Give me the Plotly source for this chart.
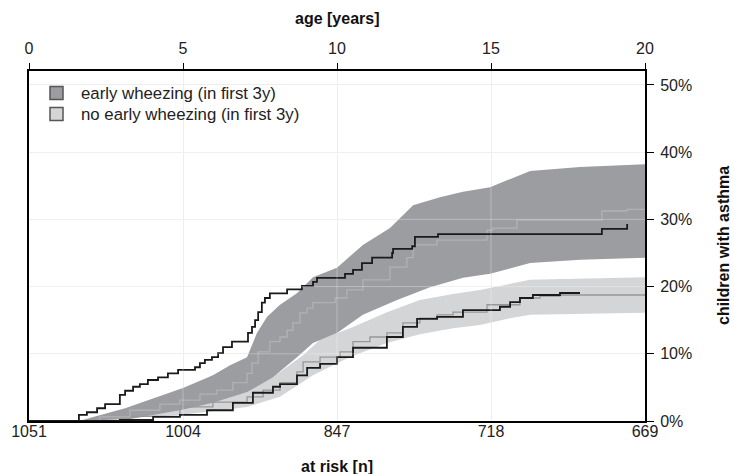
import plotly.graph_objects as go

# ---------------- data ----------------
age_ticks = [0, 5, 10, 15, 20]
at_risk_labels = ["1051", "1004", "847", "718", "669"]
pct_ticks = [0, 10, 20, 30, 40, 50]
pct_labels = ["0%", "10%", "20%", "30%", "40%", "50%"]
legend_names = ["early wheezing (in first 3y)", "no early wheezing (in first 3y)"]

# early wheezing: observed cumulative incidence (black step line)
ew_obs_age = [0, 1.62, 1.88, 2.21, 2.47, 2.95, 3.12, 3.38, 3.60, 3.86, 4.19, 4.51, 4.84,
              5.39, 5.55, 5.71, 5.94, 6.14, 6.30, 6.59, 7.11, 7.24, 7.34, 7.44, 7.56,
              7.66, 7.82, 8.38, 8.86, 9.22, 9.35, 10.26, 10.52, 10.81, 11.14, 11.79,
              11.82, 12.44, 12.53, 13.28, 18.60, 19.42, 19.42]
ew_obs_pct = [0, 0.9, 1.3, 1.9, 2.5, 3.9, 4.5, 5.1, 5.5, 6.1, 6.5, 7.1, 7.6,
              8.0, 8.6, 9.1, 9.5, 10.1, 11.0, 11.8, 13.1, 14.0, 15.0, 16.2, 17.6,
              18.3, 19.0, 19.6, 20.1, 20.7, 21.3, 21.9, 22.5, 23.5, 24.3, 25.0,
              25.6, 26.0, 27.4, 27.8, 28.6, 29.3, 29.3]

# early wheezing: model estimate (grey step line) and confidence band
ew_est_age = [0, 1.62, 2.3, 3.28, 4.25, 4.90, 5.55, 6.10, 6.62, 7.08, 7.24, 7.44, 7.82,
              8.15, 8.38, 8.57, 8.80, 9.03, 9.22, 9.94, 10.32, 10.84, 11.72, 12.27,
              12.47, 13.25, 14.87, 15.06, 15.84, 18.60, 19.42, 20]
ew_est_pct = [0, 0, 0.6, 1.6, 2.5, 3.1, 4.0, 4.6, 5.7, 7.1, 8.6, 10.3, 11.8,
              12.5, 13.5, 14.6, 16.1, 16.8, 17.6, 18.3, 19.5, 21.0, 22.9, 24.3,
              26.2, 26.9, 28.4, 28.7, 29.9, 31.25, 31.5, 31.5]
ew_up_age = [1.62, 3.12, 5.0, 5.97, 6.53, 7.08, 7.4, 7.73, 8.15, 8.7, 9.22, 10.0, 10.84,
             11.72, 12.47, 13.34, 14.09, 14.97, 16.27, 17.89, 20]
ew_up_pct = [0, 1.9, 4.9, 6.8, 8.3, 9.5, 13.1, 15.5, 17.3, 19.0, 21.4, 22.8, 26.2,
             28.7, 32.1, 33.3, 34.1, 34.8, 37.2, 37.8, 38.2]
ew_lo_age = [1.62, 3.28, 4.9, 5.97, 7.08, 7.92, 8.7, 9.22, 10.0, 10.84, 11.95, 13.02,
             14.09, 14.97, 16.27, 17.89, 20]
ew_lo_pct = [0, 0.3, 1.6, 2.7, 4.3, 6.5, 9.5, 11.6, 13.1, 15.8, 18.0, 19.9,
             21.3, 21.9, 23.5, 24.0, 24.3]

# no early wheezing: observed (black step line)
nw_obs_age = [0, 2.95, 4.03, 4.9, 5.78, 6.62, 7.27, 7.92, 8.15, 8.7, 9.03, 9.45, 10.0,
              10.52, 11.62, 12.14, 12.6, 13.25, 14.09, 15.29, 15.62, 15.94, 16.36,
              17.24, 17.89]
nw_obs_pct = [0, 0.15, 0.6, 0.9, 1.6, 2.7, 4.2, 5.1, 5.5, 6.8, 7.9, 8.5, 9.5,
              10.9, 12.5, 14.0, 15.2, 15.5, 16.5, 17.0, 17.7, 18.3, 18.75,
              19.05, 19.05]

# no early wheezing: model estimate and confidence band
nw_est_age = [0, 1.62, 3.28, 4.90, 5.97, 7.08, 7.60, 8.15, 8.70, 8.90, 9.45, 10.10,
              10.52, 11.07, 11.62, 12.14, 12.69, 13.25, 13.77, 14.87, 15.94, 16.59,
              17.24, 20]
nw_est_pct = [0, 0, 0.7, 2.1, 2.8, 3.6, 4.6, 5.7, 7.3, 8.8, 9.5, 10.3,
              11.8, 12.5, 13.1, 14.6, 15.3, 15.8, 16.2, 17.3, 18.3, 18.6,
              18.75, 18.9]
nw_up_age = [1.62, 3.28, 4.9, 7.08, 8.15, 8.9, 9.45, 10.52, 11.62, 12.69, 13.77, 14.64,
             16.27, 20]
nw_up_pct = [0, 0.9, 2.7, 4.6, 7.3, 9.8, 12.1, 14.0, 16.2, 18.0, 18.9, 19.5,
             21.0, 21.4]
nw_lo_age = [1.62, 4.9, 7.08, 8.15, 9.22, 10.1, 10.52, 11.62, 12.69, 13.77, 14.64,
             15.62, 16.27, 20]
nw_lo_pct = [0, 0.9, 2.1, 3.6, 6.8, 8.8, 9.7, 11.6, 12.9, 13.8, 14.3,
             15.3, 15.8, 16.1]

# ---------------- style ----------------
DARK = "#9c9da1"
LIGHT = "#d4d5d7"
FONT = "Liberation Sans, Arial, sans-serif"
W, H = 734, 474
ML, MR, MT, MB = 29, 89, 71, 53

fig = go.Figure()


def band(up_x, up_y, lo_x, lo_y, color):
    return go.Scatter(x=list(up_x) + list(lo_x)[::-1], y=list(up_y) + list(lo_y)[::-1],
                      fill="toself", fillcolor=color, mode="lines",
                      line=dict(width=0), showlegend=False, hoverinfo="skip")


fig.add_trace(band(nw_up_age, nw_up_pct, nw_lo_age, nw_lo_pct, LIGHT))
fig.add_trace(band(ew_up_age, ew_up_pct, ew_lo_age, ew_lo_pct, DARK))

fig.add_trace(go.Scatter(x=nw_est_age, y=nw_est_pct, mode="lines", line_shape="hv",
                         line=dict(color="#979797", width=1.3), showlegend=False))
fig.add_trace(go.Scatter(x=ew_est_age, y=ew_est_pct, mode="lines", line_shape="hv",
                         line=dict(color="#b2b2b2", width=1.3), showlegend=False))
fig.add_trace(go.Scatter(x=nw_obs_age, y=nw_obs_pct, mode="lines", line_shape="hv",
                         line=dict(color="#1a1a1a", width=1.8), showlegend=False))
fig.add_trace(go.Scatter(x=ew_obs_age, y=ew_obs_pct, mode="lines", line_shape="hv",
                         line=dict(color="#1a1a1a", width=1.8), showlegend=False))
# invisible trace so the top (age) axis is drawn
fig.add_trace(go.Scatter(x=[None], y=[None], xaxis="x2", showlegend=False,
                         hoverinfo="skip"))

# grid lines showing through the bands
for v in age_ticks[1:-1]:
    fig.add_shape(type="line", xref="x", yref="paper", x0=v, x1=v, y0=0, y1=1,
                  line=dict(color="rgba(255,255,255,0.3)", width=1), layer="above")
for h in pct_ticks[1:]:
    fig.add_shape(type="line", xref="paper", yref="y", x0=0, x1=1, y0=h, y1=h,
                  line=dict(color="rgba(255,255,255,0.3)", width=1), layer="above")

# legend (drawn as swatches + text, to match the compact spacing)
pw, ph = W - ML - MR, H - MT - MB


def px_x(px):
    return (px - ML) / pw


def px_y(py):
    return (H - MB - py) / ph


for i, (name, col) in enumerate(zip(legend_names, [DARK, LIGHT])):
    cy = 93 + 21 * i
    fig.add_shape(type="rect", xref="paper", yref="paper",
                  x0=px_x(50), x1=px_x(63), y0=px_y(cy + 6.5), y1=px_y(cy - 6.5),
                  fillcolor=col, line=dict(color="#555555", width=1.5), layer="above")
    fig.add_annotation(text=name, xref="paper", yref="paper", x=px_x(79), y=px_y(cy),
                       xanchor="left", yanchor="middle", showarrow=False,
                       font=dict(size=16.8, color="#222222"))

fig.update_layout(
    width=W, height=H,
    margin=dict(l=ML, r=MR, t=MT, b=MB),
    paper_bgcolor="white", plot_bgcolor="white",
    font=dict(family=FONT, size=16, color="#222222"),
    showlegend=False,
    xaxis=dict(range=[0, 20], tickvals=age_ticks, ticktext=at_risk_labels,
               showgrid=True, gridcolor="#ebebeb", gridwidth=1, zeroline=False,
               showline=True, linecolor="black", linewidth=2, mirror=True,
               ticks="", ticklabelstandoff=-5),
    xaxis2=dict(range=[0, 20], overlaying="x", side="top", anchor="y",
                tickvals=age_ticks, ticktext=[str(a) for a in age_ticks],
                showgrid=False, zeroline=False, showline=False,
                ticks="outside", ticklen=7, tickwidth=1, tickcolor="black",
                ticklabelstandoff=3),
    yaxis=dict(range=[0, 52.08], side="right", tickvals=pct_ticks, ticktext=pct_labels,
               showgrid=True, gridcolor="#ebebeb", gridwidth=1, zeroline=False,
               showline=True, linecolor="black", linewidth=2, mirror=True,
               ticks="outside", ticklen=7, tickwidth=1, tickcolor="black",
               ticklabelstandoff=3),
)

fig.add_annotation(text="<b>age [years]</b>", xref="paper", yref="paper", x=0.5, y=1,
                   yanchor="middle", yshift=53, showarrow=False,
                   font=dict(size=16, color="#111111"))
fig.add_annotation(text="<b>at risk [n]</b>", xref="paper", yref="paper", x=0.5, y=0,
                   yanchor="middle", yshift=-45, showarrow=False,
                   font=dict(size=16, color="#111111"))
fig.add_annotation(text="<b>children with asthma</b>", xref="paper", yref="paper",
                   x=1, y=0.5, xanchor="center", yanchor="middle", xshift=78,
                   textangle=-90, showarrow=False,
                   font=dict(size=16, color="#111111"))

fig.write_html("out.html")
